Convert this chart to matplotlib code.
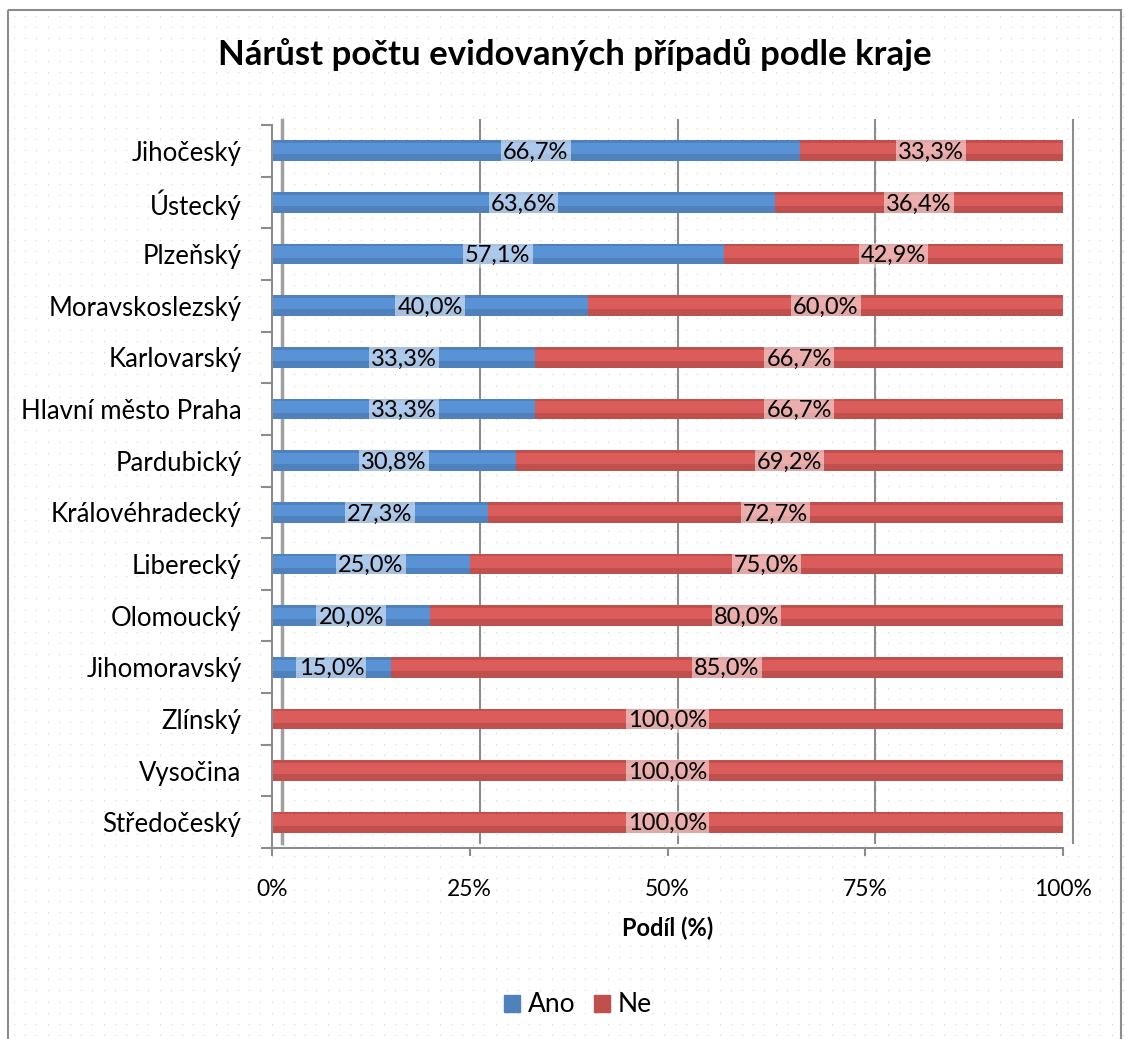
import numpy as np
import matplotlib
matplotlib.use("Agg")
import matplotlib.pyplot as plt
import matplotlib.transforms as mtransforms
from matplotlib.patches import Rectangle

# ---------------------------------
# DATA
# ---------------------------------
kraje = ["Jihočeský", "Ústecký", "Plzeňský", "Moravskoslezský", "Karlovarský",
         "Hlavní město Praha", "Pardubický", "Královéhradecký", "Liberecký",
         "Olomoucký", "Jihomoravský", "Zlínský", "Vysočina", "Středočeský"]
ano = [66.7, 63.6, 57.1, 40.0, 33.3, 33.3, 30.8, 27.3, 25.0, 20.0, 15.0, 0.0, 0.0, 0.0]
ne = [33.3, 36.4, 42.9, 60.0, 66.7, 66.7, 69.2, 72.7, 75.0, 80.0, 85.0, 100.0, 100.0, 100.0]
xticks = [0, 25, 50, 75, 100]

TITLE = "Nárůst počtu evidovaných případů podle kraje"
XLABEL = "Podíl (%)"

BLUE = "#4F81BD"
BLUE_LIGHT = "#5A92D6"
RED = "#C0504D"
RED_LIGHT = "#DA5D5B"

plt.rcParams['font.family'] = ['Lato', 'DejaVu Sans']

W, H = 1125, 1039
fig = plt.figure(figsize=(W / 100, H / 100), dpi=100)

# background dots + frame
bg = fig.add_axes([0, 0, 1, 1], zorder=-10)
bg.set_xlim(0, W)
bg.set_ylim(H, 0)
bg.axis("off")
gx, gy = np.meshgrid(np.arange(14, W, 11.2), np.arange(16, H, 11.2))
bg.scatter(gx.ravel(), gy.ravel(), s=0.6, color="#c8c8c8", linewidths=0)
bg.add_patch(Rectangle((8, 10), 1113, 1040, fill=False, edgecolor="#8c8c8c", lw=1.5))

# main axes (pixel placement)
left, right, top, bottom = 272, 1063, 125, 848
ax = fig.add_axes([left / W, 1 - bottom / H, (right - left) / W, (bottom - top) / H])
ax.set_facecolor("none")

y = np.arange(len(kraje))
h = 0.40

# back wall gridlines (shifted for the 3D look)
shift = mtransforms.ScaledTranslation(10 / 100, 5 / 100, fig.dpi_scale_trans)
wall = ax.get_xaxis_transform() + shift
for v in xticks[1:]:
    ax.plot([v, v], [0, 1], color="#8c8c8c", lw=1.5, zorder=0, transform=wall, clip_on=False)
ax.plot([0, 0], [0, 1], color="#a0a0a0", lw=2.5, zorder=0, transform=wall, clip_on=False)

# bars: dark base with lighter top band
ax.barh(y, ano, height=h, color=BLUE, zorder=2)
ax.barh(y - 0.04, ano, height=h * 0.55, color=BLUE_LIGHT, zorder=2)
ax.barh(y, ne, left=ano, height=h, color=RED, zorder=2)
ax.barh(y - 0.04, ne, left=ano, height=h * 0.55, color=RED_LIGHT, zorder=2)

def fmt(v):
    return f"{v:.1f}%".replace(".", ",")

for i in range(len(kraje)):
    if ano[i] > 0:
        ax.text(ano[i] / 2, y[i] + 0.03, fmt(ano[i]), ha="center", va="center", fontsize=17,
                zorder=3, bbox=dict(facecolor="white", alpha=0.5, edgecolor="none", pad=1.5))
    if ne[i] > 0:
        ax.text(ano[i] + ne[i] / 2, y[i] + 0.03, fmt(ne[i]), ha="center", va="center", fontsize=17,
                zorder=3, bbox=dict(facecolor="white", alpha=0.5, edgecolor="none", pad=1.5))

ax.set_xlim(0, 100)
ax.set_ylim(len(kraje) - 0.5, -0.5)
ax.set_yticks(y)
ax.set_yticklabels(kraje, fontsize=18.5)
ax.set_yticks(np.arange(-0.5, len(kraje)), minor=True)
ax.tick_params(axis="y", which="major", length=0, pad=22)
ax.tick_params(axis="y", which="minor", length=8, color="#8c8c8c", width=1.5)
ax.set_xticks(xticks)
ax.set_xticklabels([f"{v}%" for v in xticks], fontsize=16.5)
ax.tick_params(axis="x", length=6, color="#8c8c8c", width=1.5, pad=16)
ax.set_xlabel(XLABEL, fontsize=17, fontweight="bold", labelpad=12)
for s in ["top", "right"]:
    ax.spines[s].set_visible(False)
ax.spines["left"].set_color("#8c8c8c")
ax.spines["left"].set_linewidth(1.5)
ax.spines["bottom"].set_color("#8c8c8c")
ax.spines["bottom"].set_linewidth(1.5)

fig.text(575 / W, 1 - 55 / H, TITLE, ha="center", va="center", fontsize=25, fontweight="bold")

handles = [Rectangle((0, 0), 1, 1, color=BLUE), Rectangle((0, 0), 1, 1, color=RED)]
fig.legend(handles, ["Ano", "Ne"], loc="center", bbox_to_anchor=(578 / W, 1 - 1005 / H),
           ncol=2, frameon=False, fontsize=19, handlelength=0.6, handleheight=0.6,
           handletextpad=0.3, columnspacing=0.7)

fig.savefig("out.png", dpi=100)
